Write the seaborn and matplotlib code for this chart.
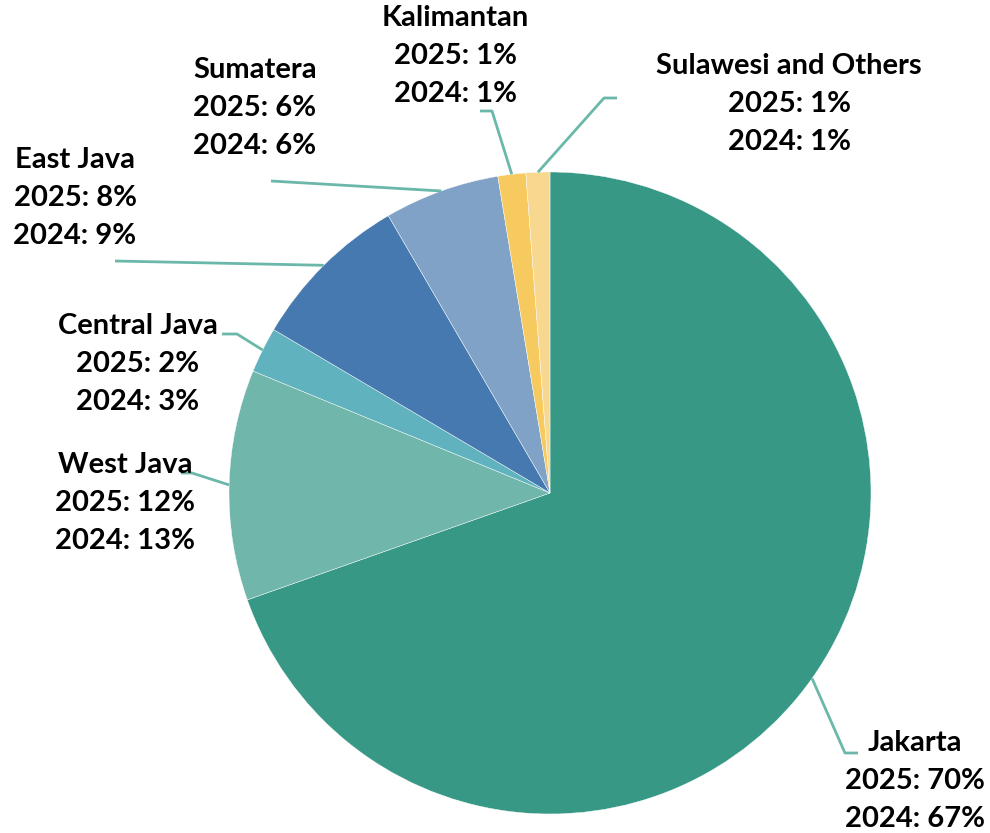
import numpy as np
import matplotlib
matplotlib.use("Agg")
import matplotlib.pyplot as plt
import seaborn as sns

regions = ["Jakarta", "West Java", "Central Java", "East Java",
           "Sumatera", "Kalimantan", "Sulawesi and Others"]
share_2025 = [69.6, 11.6, 2.3, 8.1, 5.8, 1.4, 1.2]
label_2025 = [70, 12, 2, 8, 6, 1, 1]
label_2024 = [67, 13, 3, 9, 6, 1, 1]
colors = ["#379886", "#70B6AA", "#60B3BE", "#4679AF",
          "#7FA2C6", "#F6CA5E", "#F8D88F"]

# layout in pixel units (y measured from top)
W, H = 990, 833
CX, CY, R = 550, 493, 321
label_xy = [(915, 743), (125, 465), (138, 326), (75, 160),
            (255, 70), (455, 18), (789, 66)]
elbow_xy = [(845, 753), (192, 473), (237, 334), (115, 261),
            (271, 181), (492, 111), (604, 98)]
end_xy = [(858, 753), (181, 473), (222, 334), (115, 261),
          (271, 181), (480, 111), (617, 98)]
LINE_H = 38

sns.set_theme(style="white")
plt.rcParams['font.family'] = ['Lato', 'DejaVu Sans']

fig = plt.figure(figsize=(W / 100, H / 100), dpi=100)
ax = fig.add_axes([0, 0, 1, 1])

wedges, _ = ax.pie(share_2025, colors=colors, startangle=90, counterclock=False,
                   center=(CX, H - CY), radius=R,
                   wedgeprops=dict(edgecolor='white', linewidth=0.3))
ax.set_xlim(0, W)
ax.set_ylim(0, H)
ax.set_aspect('equal')
ax.axis('off')

line_col = "#6BB8AA"
for i, w in enumerate(wedges):
    mid = np.deg2rad((w.theta1 + w.theta2) / 2)
    sx = CX + R * np.cos(mid)
    sy = (H - CY) + R * np.sin(mid)
    ex, ey = elbow_xy[i]
    fx, fy = end_xy[i]
    ax.plot([sx, ex, fx], [sy, H - ey, H - fy], color=line_col, lw=2,
            solid_capstyle='butt', zorder=1)
    lx, ly = label_xy[i]
    lines = [regions[i], f"2025: {label_2025[i]}%", f"2024: {label_2024[i]}%"]
    for k, t in enumerate(lines):
        ax.text(lx, H - (ly + k * LINE_H), t, ha='center', va='center',
                fontsize=21, fontweight='bold', color='black')

fig.savefig("out.png", dpi=100)
